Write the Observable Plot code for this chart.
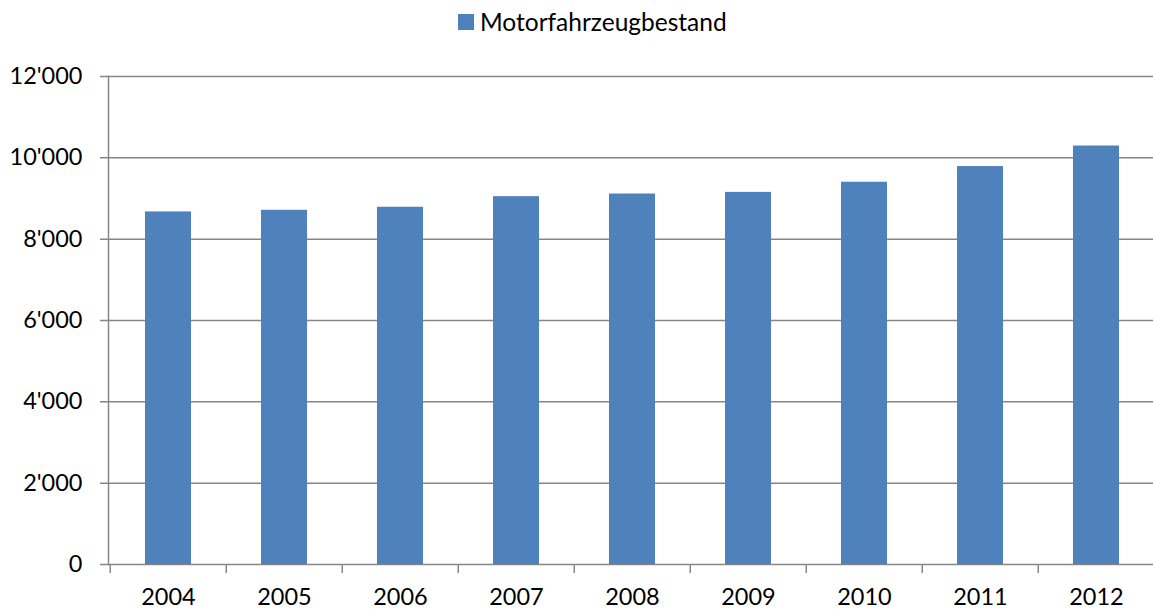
<!DOCTYPE html>
<html>
<head>
<meta charset="utf-8">
<script src="https://cdn.jsdelivr.net/npm/d3@7"></script>
<script src="https://cdn.jsdelivr.net/npm/@observablehq/plot@0.6"></script>
<style>
  html, body { margin: 0; padding: 0; background: #fff; }
  body { width: 1153px; height: 610px; overflow: hidden; font-family: Lato, "Open Sans", sans-serif; }
  #legend { height: 45px; position: relative; }
  #legend .item { position: absolute; left: 458px; top: 7px; display: flex; align-items: center; font-size: 24.5px; color: #000; }
  #legend .sw { width: 16px; height: 16px; background: #4F81BD; margin-right: 6px; }
</style>
</head>
<body>
<div id="legend"><div class="item"><span class="sw"></span><span id="legendLabel"></span></div></div>
<div id="chart"></div>
<script>
const seriesName = "Motorfahrzeugbestand";
const years = ["2004","2005","2006","2007","2008","2009","2010","2011","2012"];
const values = [8670, 8710, 8785, 9045, 9110, 9150, 9400, 9785, 10290];
const yTicks = [0, 2000, 4000, 6000, 8000, 10000, 12000];

document.getElementById("legendLabel").textContent = seriesName;

const data = years.map((y, i) => ({year: y, value: values[i]}));
const fmt = d3.formatLocale({decimal: ".", thousands: "'", grouping: [3], currency: ["", ""]}).format(",");

const width = 1153, marginLeft = 108, marginRight = -3;
const step = (width - marginLeft - marginRight) / years.length;
const gray = "#868686";

const chart = Plot.plot({
  width,
  height: 565,
  marginTop: 31,
  marginBottom: 46,
  marginLeft,
  marginRight,
  style: {fontFamily: "Lato, 'Open Sans', sans-serif", fontSize: "23.5px", color: "#000", background: "#fff"},
  x: {domain: years, paddingInner: 0.6, paddingOuter: 0.3, label: null},
  y: {domain: [0, 12000], label: null},
  marks: [
    Plot.gridY(yTicks, {stroke: gray, strokeOpacity: 1, strokeWidth: 1.5, insetLeft: -8}),
    Plot.barY(data, {x: "year", y: "value", fill: "#4F81BD"}),
    Plot.frame({anchor: "left", stroke: gray, strokeWidth: 1.5}),
    Plot.ruleX(years, {x: d => d, y1: 0, y2: 0, dx: -step / 2, insetBottom: -9, stroke: gray, strokeWidth: 1.5}),
    Plot.ruleX(years.slice(-1), {x: d => d, y1: 0, y2: 0, dx: step / 2, insetBottom: -9, stroke: gray, strokeWidth: 1.5}),
    Plot.axisY(yTicks, {tickSize: 0, tickPadding: 26, tickFormat: fmt, fill: "#000", label: null}),
    Plot.axisX({tickSize: 0, tickPadding: 24, fill: "#000", label: null})
  ]
});
document.getElementById("chart").appendChild(chart);
</script>
</body>
</html>
